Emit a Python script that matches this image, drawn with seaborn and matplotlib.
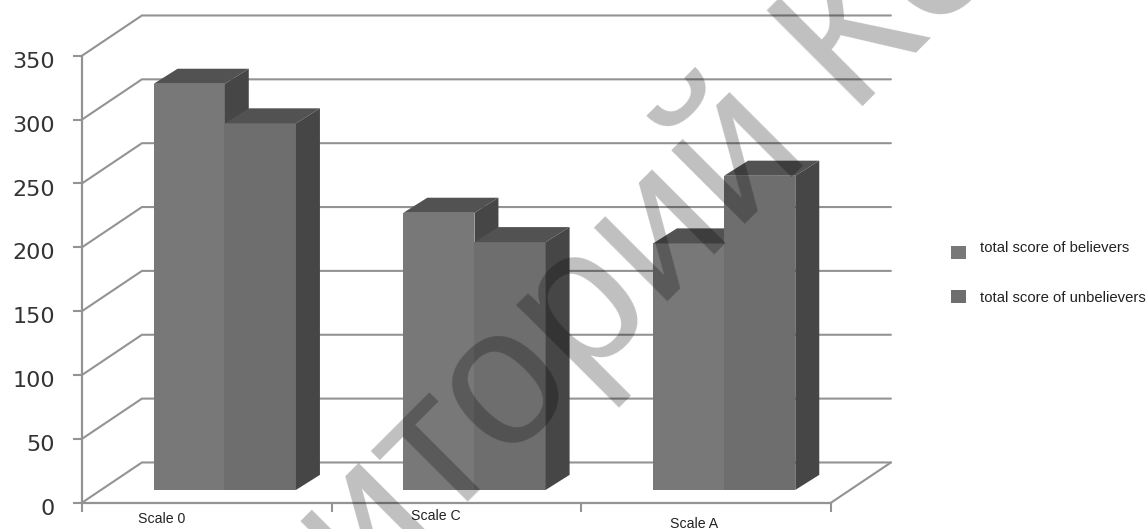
import matplotlib
matplotlib.use("Agg")
import matplotlib.pyplot as plt
from matplotlib.patches import Polygon
from matplotlib.transforms import ScaledTranslation
import pandas as pd
import seaborn as sns

# values
scales = ["Scale 0", "Scale C", "Scale A"]
believers = [318, 217, 193]
unbelievers = [287, 194, 246]
series_names = ["total score of believers", "total score of unbelievers"]
y_ticks = [0, 50, 100, 150, 200, 250, 300, 350]

# the fake 3D look, in data units
WALL_DX, WALL_DY = 0.24, 31.5
BAR_DX, BAR_DY = 0.096, 11.8
SHIFT_X, SHIFT_Y = 0.072, 10
RIGHT_END = 2.5 + WALL_DX

GRID = "#939393"
TOP = "#525252"
SIDE = "#464646"

sns.set_theme(style="white")
plt.rcParams["font.family"] = ["Liberation Sans", "DejaVu Sans"]

df = pd.DataFrame({
    "scale": scales * 2,
    "score": believers + unbelievers,
    "group": [series_names[0]] * 3 + [series_names[1]] * 3,
})

fig = plt.figure(figsize=(11.46, 5.29), dpi=100)
ax = fig.add_axes([82 / 1146, 1 - 502.7 / 529, 749 / 1146, 447 / 529])

sns.barplot(data=df, x="scale", y="score", hue="group", hue_order=series_names,
            palette=["#787878", "#6e6e6e"], saturation=1, width=0.57, gap=0,
            linewidth=0, errorbar=None, ax=ax)

ax.set_xlim(-0.5, 2.5)
ax.set_ylim(0, 350)
ax.set_xlabel("")
ax.set_ylabel("")

# back wall and left wall lines
for t in y_ticks:
    ax.plot([-0.5, -0.5 + WALL_DX, RIGHT_END], [t, t + WALL_DY, t + WALL_DY],
            color=GRID, lw=1.5, clip_on=False, zorder=1, solid_joinstyle="miter")
ax.plot([2.5, RIGHT_END], [0, WALL_DY], color=GRID, lw=1.5, clip_on=False, zorder=1)

# move the bars back onto the floor and give them a top and a side
bars = [p for p in ax.patches if p.get_height() > 0]
bars.sort(key=lambda p: p.get_x())
for i, bar in enumerate(bars):
    bar.set_x(bar.get_x() + SHIFT_X)
    bar.set_y(SHIFT_Y)
    x0 = bar.get_x()
    x1 = x0 + bar.get_width()
    y0 = SHIFT_Y
    y1 = y0 + bar.get_height()
    z = 3 + i
    bar.set_zorder(z + 0.5)
    ax.add_patch(Polygon([(x0, y1), (x1, y1), (x1 + BAR_DX, y1 + BAR_DY), (x0 + BAR_DX, y1 + BAR_DY)],
                         facecolor=TOP, edgecolor="none", zorder=z + 0.5))
    ax.add_patch(Polygon([(x1, y0), (x1, y1), (x1 + BAR_DX, y1 + BAR_DY), (x1 + BAR_DX, y0 + BAR_DY)],
                         facecolor=SIDE, edgecolor="none", zorder=z + 0.5))

sns.despine(ax=ax)
for s in ["left", "bottom"]:
    ax.spines[s].set_color(GRID)
    ax.spines[s].set_linewidth(1.6)

ax.set_yticks(y_ticks)
ax.set_yticklabels([str(t) for t in y_ticks], family="DejaVu Sans", fontsize=16, color="#333333")
ax.set_xticks([-0.5, 0.5, 1.5, 2.5])
ax.set_xticklabels([])
ax.tick_params(axis="both", length=6.5, width=1.5, color=GRID, left=True, bottom=True)
ax.tick_params(axis="y", pad=13)
# tick numbers sit a little under their ticks
nudge = ScaledTranslation(0, -3 / 72, fig.dpi_scale_trans)
for lab in ax.get_yticklabels():
    lab.set_transform(lab.get_transform() + nudge)

# the category names sit a bit crooked in the original
label_dx = [-0.18, -0.084, -0.05]
label_y = [-12.8, -10.8, -16.4]
for i, name in enumerate(scales):
    ax.text(i + label_dx[i], label_y[i], name, ha="center", va="center",
            fontsize=10.2, color="#222222", clip_on=False)

sns.move_legend(ax, loc="center left", bbox_to_anchor=(951 / 1146, 1 - 275.5 / 529),
                bbox_transform=fig.transFigure, frameon=False, title=None,
                fontsize=10.7, handlelength=1.03, handleheight=0.96, handletextpad=0.95,
                labelspacing=2.0, borderpad=0, borderaxespad=0)
for txt in ax.get_legend().get_texts():
    txt.set_color("#222222")
ax.get_legend().get_texts()[0].set_position((0, 6))

# watermark
fig.text(365 / 1146, 1 - 604 / 529, "иторий Ке", fontsize=141, rotation=45,
         rotation_mode="anchor", ha="left", va="baseline", color="black", alpha=0.25,
         family="Liberation Sans", zorder=20)

fig.savefig("out.png", dpi=100)
